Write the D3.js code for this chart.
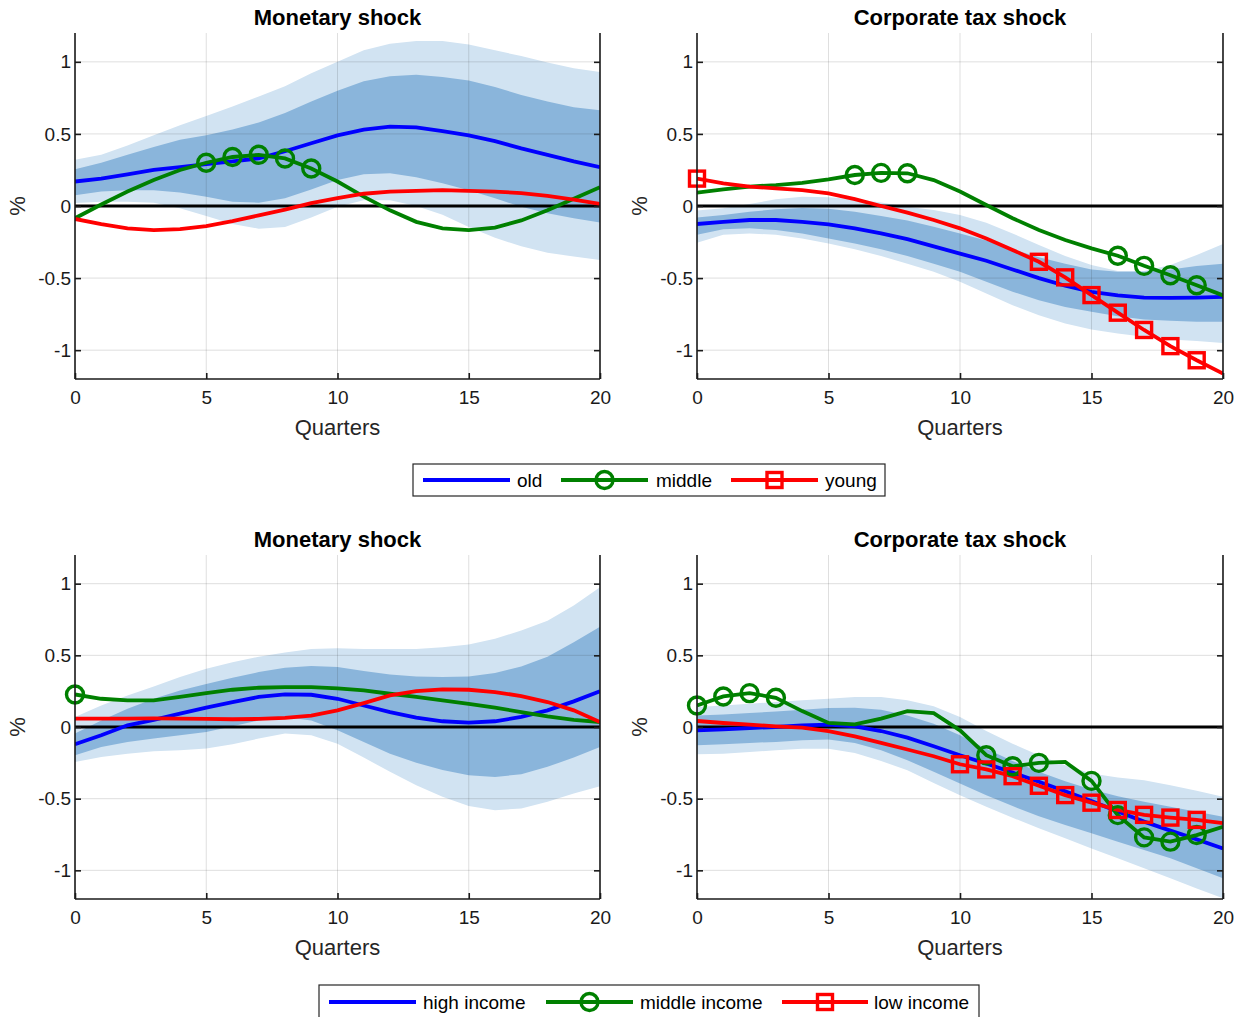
<!DOCTYPE html>
<html>
<head>
<meta charset="utf-8">
<script src="https://cdn.jsdelivr.net/npm/d3@7"></script>
<style>
  body { margin: 0; background: #fff; }
  svg { font-family: "Liberation Sans", Arial, sans-serif; }
</style>
</head>
<body>
<div id="chart"></div>
<script>
// Data
// ===========================
var quarters = [0, 1, 2, 3, 4, 5, 6, 7, 8, 9, 10, 11, 12, 13, 14, 15, 16, 17, 18, 19, 20];
var yTicks = [-1, -0.5, 0, 0.5, 1];
var xTicks = [0, 5, 10, 15, 20];

// Age groups, monetary shock
var ageMonOld = [0.17, 0.19, 0.22, 0.25, 0.27, 0.29, 0.31, 0.33, 0.38, 0.435, 0.49, 0.53, 0.55, 0.545, 0.52, 0.49, 0.45, 0.40, 0.355, 0.31, 0.27];
var ageMonMid = [-0.085, 0.01, 0.10, 0.18, 0.25, 0.30, 0.34, 0.355, 0.33, 0.26, 0.17, 0.065, -0.03, -0.11, -0.155, -0.167, -0.15, -0.10, -0.03, 0.05, 0.13];
var ageMonYoung = [-0.09, -0.125, -0.155, -0.167, -0.16, -0.14, -0.105, -0.065, -0.025, 0.02, 0.055, 0.085, 0.10, 0.105, 0.11, 0.105, 0.10, 0.09, 0.07, 0.045, 0.015];
var ageMonOuterHi = [0.32, 0.355, 0.42, 0.49, 0.56, 0.625, 0.69, 0.76, 0.83, 0.92, 1.0, 1.08, 1.125, 1.145, 1.145, 1.12, 1.08, 1.04, 0.995, 0.955, 0.93];
var ageMonInnerHi = [0.255, 0.30, 0.355, 0.41, 0.46, 0.49, 0.53, 0.58, 0.645, 0.725, 0.80, 0.865, 0.90, 0.91, 0.895, 0.87, 0.825, 0.77, 0.725, 0.685, 0.665];
var ageMonInnerLo = [0.075, 0.10, 0.11, 0.11, 0.093, 0.065, 0.03, 0.023, 0.053, 0.115, 0.18, 0.22, 0.227, 0.20, 0.157, 0.11, 0.053, -0.005, -0.05, -0.085, -0.115];
var ageMonOuterLo = [0.02, 0.03, 0.03, 0.023, -0.016, -0.07, -0.125, -0.157, -0.145, -0.08, -0.005, 0.04, 0.04, 0.0, -0.06, -0.145, -0.22, -0.28, -0.325, -0.35, -0.375];
var ageMonMidMarks = [5, 6, 7, 8, 9];
var ageMonYoungMarks = [];

// Age groups, corporate tax shock
var ageTaxOld = [-0.125, -0.11, -0.097, -0.097, -0.11, -0.127, -0.155, -0.19, -0.23, -0.28, -0.33, -0.38, -0.44, -0.50, -0.553, -0.595, -0.62, -0.635, -0.637, -0.635, -0.63];
var ageTaxMid = [0.093, 0.115, 0.135, 0.145, 0.16, 0.185, 0.215, 0.23, 0.227, 0.18, 0.10, 0.007, -0.085, -0.167, -0.236, -0.294, -0.345, -0.415, -0.48, -0.55, -0.62];
var ageTaxYoung = [0.19, 0.157, 0.135, 0.122, 0.11, 0.088, 0.048, 0.0, -0.046, -0.097, -0.155, -0.225, -0.305, -0.387, -0.495, -0.618, -0.74, -0.86, -0.972, -1.07, -1.162];
var ageTaxOuterHi = [-0.032, -0.016, 0.014, 0.046, 0.065, 0.06, 0.046, 0.025, -0.005, -0.028, -0.062, -0.116, -0.19, -0.27, -0.347, -0.41, -0.45, -0.45, -0.41, -0.34, -0.264];
var ageTaxInnerHi = [-0.079, -0.062, -0.04, -0.023, -0.014, -0.019, -0.04, -0.07, -0.10, -0.144, -0.19, -0.24, -0.30, -0.356, -0.40, -0.44, -0.456, -0.456, -0.44, -0.417, -0.40];
var ageTaxInnerLo = [-0.20, -0.162, -0.155, -0.167, -0.19, -0.225, -0.26, -0.30, -0.347, -0.40, -0.456, -0.525, -0.595, -0.653, -0.70, -0.734, -0.764, -0.787, -0.796, -0.803, -0.803];
var ageTaxOuterLo = [-0.255, -0.20, -0.19, -0.20, -0.225, -0.26, -0.30, -0.347, -0.40, -0.456, -0.525, -0.607, -0.688, -0.757, -0.815, -0.856, -0.884, -0.907, -0.926, -0.937, -0.95];
var ageTaxMidMarks = [6, 7, 8, 16, 17, 18, 19];
var ageTaxYoungMarks = [0, 13, 14, 15, 16, 17, 18, 19];

// Income groups, monetary shock
var incMonHigh = [-0.12, -0.058, 0.012, 0.05, 0.093, 0.135, 0.174, 0.21, 0.227, 0.225, 0.197, 0.15, 0.104, 0.065, 0.04, 0.03, 0.04, 0.07, 0.116, 0.179, 0.25];
var incMonMid = [0.227, 0.197, 0.186, 0.186, 0.21, 0.237, 0.26, 0.274, 0.278, 0.278, 0.27, 0.255, 0.232, 0.21, 0.186, 0.162, 0.135, 0.104, 0.074, 0.05, 0.035];
var incMonLow = [0.058, 0.058, 0.058, 0.06, 0.058, 0.056, 0.054, 0.056, 0.063, 0.08, 0.116, 0.167, 0.22, 0.25, 0.262, 0.26, 0.244, 0.216, 0.174, 0.116, 0.035];
var incMonOuterHi = [0.07, 0.15, 0.22, 0.283, 0.348, 0.406, 0.452, 0.49, 0.52, 0.545, 0.55, 0.545, 0.545, 0.545, 0.557, 0.575, 0.615, 0.673, 0.742, 0.847, 0.975];
var incMonInnerHi = [-0.046, 0.046, 0.128, 0.197, 0.255, 0.30, 0.343, 0.383, 0.413, 0.425, 0.418, 0.39, 0.367, 0.353, 0.348, 0.353, 0.376, 0.422, 0.49, 0.592, 0.70];
var incMonInnerLo = [-0.197, -0.139, -0.104, -0.081, -0.058, -0.035, 0.005, 0.046, 0.07, 0.046, -0.023, -0.104, -0.186, -0.25, -0.30, -0.336, -0.348, -0.33, -0.278, -0.213, -0.139];
var incMonOuterLo = [-0.244, -0.209, -0.186, -0.17, -0.162, -0.15, -0.12, -0.081, -0.046, -0.058, -0.116, -0.213, -0.313, -0.406, -0.487, -0.552, -0.58, -0.568, -0.522, -0.464, -0.413];
var incMonMidMarks = [0];
var incMonLowMarks = [];

// Income groups, corporate tax shock
var incTaxHigh = [-0.023, -0.016, -0.007, 0.0, 0.012, 0.016, 0.005, -0.028, -0.074, -0.134, -0.197, -0.255, -0.318, -0.382, -0.448, -0.517, -0.59, -0.66, -0.723, -0.784, -0.847];
var incTaxMid = [0.15, 0.213, 0.236, 0.204, 0.111, 0.028, 0.018, 0.058, 0.111, 0.097, -0.023, -0.197, -0.274, -0.25, -0.244, -0.376, -0.615, -0.77, -0.80, -0.754, -0.696];
var incTaxLow = [0.042, 0.028, 0.016, 0.005, -0.005, -0.028, -0.065, -0.111, -0.157, -0.204, -0.26, -0.296, -0.343, -0.41, -0.475, -0.528, -0.579, -0.613, -0.632, -0.648, -0.671];
var incTaxOuterHi = [0.139, 0.15, 0.162, 0.174, 0.186, 0.197, 0.209, 0.209, 0.186, 0.144, 0.07, -0.028, -0.116, -0.197, -0.267, -0.325, -0.353, -0.371, -0.406, -0.445, -0.487];
var incTaxInnerHi = [0.081, 0.088, 0.097, 0.109, 0.12, 0.132, 0.135, 0.12, 0.081, 0.023, -0.058, -0.151, -0.237, -0.313, -0.378, -0.436, -0.483, -0.522, -0.557, -0.592, -0.626];
var incTaxInnerLo = [-0.128, -0.12, -0.111, -0.104, -0.093, -0.088, -0.111, -0.162, -0.232, -0.313, -0.394, -0.476, -0.552, -0.622, -0.684, -0.742, -0.80, -0.858, -0.916, -0.986, -1.056];
var incTaxOuterLo = [-0.19, -0.186, -0.174, -0.162, -0.151, -0.151, -0.181, -0.237, -0.302, -0.39, -0.476, -0.557, -0.633, -0.707, -0.777, -0.847, -0.916, -0.986, -1.056, -1.126, -1.195];
var incTaxMidMarks = [0, 1, 2, 3, 11, 12, 13, 15, 16, 17, 18, 19];
var incTaxLowMarks = [10, 11, 12, 13, 14, 15, 16, 17, 18, 19];

var ageLabels = ["old", "middle", "young"];
var incomeLabels = ["high income", "middle income", "low income"];
var titles = ["Monetary shock", "Corporate tax shock"];

// Canvas
// ===========================
var width = 1244, height = 1017;
var svg = d3.select("#chart").append("svg")
  .attr("width", width)
  .attr("height", height);

var colBlue = "#0000ff", colGreen = "#008000", colRed = "#ff0000";
var colOuter = "#d1e3f2", colInner = "#8ab5db";
var lineW = 3.8, markW = 3.4;

// panel boxes
var cols = [{ x0: 75, x1: 600 }, { x0: 697, x1: 1223 }];
var rows = [{ y0: 33, y1: 379 }, { y0: 555, y1: 899 }];

var panels = [
  { col: 0, row: 0, title: titles[0], a: ageMonOld, b: ageMonMid, c: ageMonYoung,
    oh: ageMonOuterHi, ih: ageMonInnerHi, il: ageMonInnerLo, ol: ageMonOuterLo,
    bMarks: ageMonMidMarks, cMarks: ageMonYoungMarks },
  { col: 1, row: 0, title: titles[1], a: ageTaxOld, b: ageTaxMid, c: ageTaxYoung,
    oh: ageTaxOuterHi, ih: ageTaxInnerHi, il: ageTaxInnerLo, ol: ageTaxOuterLo,
    bMarks: ageTaxMidMarks, cMarks: ageTaxYoungMarks },
  { col: 0, row: 1, title: titles[0], a: incMonHigh, b: incMonMid, c: incMonLow,
    oh: incMonOuterHi, ih: incMonInnerHi, il: incMonInnerLo, ol: incMonOuterLo,
    bMarks: incMonMidMarks, cMarks: incMonLowMarks },
  { col: 1, row: 1, title: titles[1], a: incTaxHigh, b: incTaxMid, c: incTaxLow,
    oh: incTaxOuterHi, ih: incTaxInnerHi, il: incTaxInnerLo, ol: incTaxOuterLo,
    bMarks: incTaxMidMarks, cMarks: incTaxLowMarks }
];

panels.forEach(drawPanel);

function drawPanel(p) {
  var c = cols[p.col], r = rows[p.row];
  var x = d3.scaleLinear().domain([0, 20]).range([c.x0, c.x1]);
  var y = d3.scaleLinear().domain([-1.2, 1.2]).range([r.y1, r.y0]);
  var g = svg.append("g");

  // clip so that bands stay inside the axes
  var clipId = "clip" + p.col + p.row;
  g.append("clipPath").attr("id", clipId)
    .append("rect")
    .attr("x", c.x0).attr("y", r.y0)
    .attr("width", c.x1 - c.x0).attr("height", r.y1 - r.y0);
  var inner = g.append("g").attr("clip-path", "url(#" + clipId + ")");

  // bands
  var band = function(lo, hi) {
    return d3.area()
      .x(function(d) { return x(d); })
      .y0(function(d, i) { return y(lo[i]); })
      .y1(function(d, i) { return y(hi[i]); })(quarters);
  };
  inner.append("path").attr("d", band(p.ol, p.oh)).attr("fill", colOuter);
  inner.append("path").attr("d", band(p.il, p.ih)).attr("fill", colInner);

  // grid
  inner.selectAll(".gx").data(xTicks).enter().append("line")
    .attr("x1", function(d) { return x(d); }).attr("x2", function(d) { return x(d); })
    .attr("y1", r.y0).attr("y2", r.y1)
    .attr("stroke", "rgba(38,38,38,0.15)").attr("stroke-width", 1);
  inner.selectAll(".gy").data(yTicks).enter().append("line")
    .attr("x1", c.x0).attr("x2", c.x1)
    .attr("y1", function(d) { return y(d); }).attr("y2", function(d) { return y(d); })
    .attr("stroke", "rgba(38,38,38,0.15)").attr("stroke-width", 1);

  // zero line
  inner.append("line")
    .attr("x1", c.x0).attr("x2", c.x1)
    .attr("y1", y(0)).attr("y2", y(0))
    .attr("stroke", "#000").attr("stroke-width", 2.8);

  // series
  var line = function(vals) {
    return d3.line()
      .x(function(d) { return x(d); })
      .y(function(d, i) { return y(vals[i]); })(quarters);
  };
  inner.append("path").attr("d", line(p.a)).attr("fill", "none")
    .attr("stroke", colBlue).attr("stroke-width", lineW);
  inner.append("path").attr("d", line(p.b)).attr("fill", "none")
    .attr("stroke", colGreen).attr("stroke-width", lineW);
  g.selectAll(".mk-b").data(p.bMarks).enter().append("circle")
    .attr("cx", function(d) { return x(d); })
    .attr("cy", function(d) { return y(p.b[d]); })
    .attr("r", 8.5).attr("fill", "none")
    .attr("stroke", colGreen).attr("stroke-width", markW);
  inner.append("path").attr("d", line(p.c)).attr("fill", "none")
    .attr("stroke", colRed).attr("stroke-width", lineW);
  g.selectAll(".mk-c").data(p.cMarks).enter().append("rect")
    .attr("x", function(d) { return x(d) - 7.5; })
    .attr("y", function(d) { return y(p.c[d]) - 7.5; })
    .attr("width", 15).attr("height", 15).attr("fill", "none")
    .attr("stroke", colRed).attr("stroke-width", markW);

  // axes
  var yAxisL = d3.axisLeft(y).tickValues(yTicks).tickSize(-6).tickPadding(4)
    .tickFormat(function(d) { return d === 0 ? "0" : String(d); });
  var yAxisR = d3.axisRight(y).tickValues(yTicks).tickSize(-6).tickFormat("");
  var xAxis = d3.axisBottom(x).tickValues(xTicks).tickSize(-6).tickPadding(12);

  var ga = g.append("g").attr("transform", "translate(" + c.x0 + ",0)").call(yAxisL);
  var gr = g.append("g").attr("transform", "translate(" + c.x1 + ",0)").call(yAxisR);
  var gb = g.append("g").attr("transform", "translate(0," + r.y1 + ")").call(xAxis);
  [ga, gr, gb].forEach(function(a) {
    a.select(".domain").attr("stroke", "#1a1a1a").attr("stroke-width", 1.6)
      .attr("d", a === gb ? "M" + c.x0 + ",0H" + c.x1
                          : "M0," + r.y0 + "V" + r.y1);
    a.selectAll(".tick line").attr("stroke", "#1a1a1a").attr("stroke-width", 1.6);
    a.selectAll("text").attr("fill", "#1a1a1a")
      .style("font-size", "19px").style("font-family", "'Liberation Sans', Arial, sans-serif");
  });

  // titles and labels
  g.append("text")
    .attr("x", (c.x0 + c.x1) / 2).attr("y", r.y0 - 8)
    .attr("text-anchor", "middle")
    .style("font-size", "22px").style("font-weight", "bold")
    .text(p.title);
  g.append("text")
    .attr("x", (c.x0 + c.x1) / 2).attr("y", r.y1 + 56)
    .attr("text-anchor", "middle").attr("fill", "#262626")
    .style("font-size", "22px")
    .text("Quarters");
  g.append("text")
    .attr("transform", "translate(" + (c.x0 - 50) + "," + y(0) + ") rotate(-90)")
    .attr("text-anchor", "middle").attr("fill", "#262626")
    .style("font-size", "22px")
    .text("%");
}

// Legends
// ===========================
drawLegend(ageLabels, { x: 413, y: 464, w: 472, h: 32 },
  [[423, 510, 517], [561, 648, 656], [731, 818, 825]]);
drawLegend(incomeLabels, { x: 319, y: 985, w: 660, h: 34 },
  [[329, 416, 423], [546, 633, 640], [782, 868, 874]]);

function drawLegend(labels, box, slots) {
  var g = svg.append("g");
  g.append("rect")
    .attr("x", box.x).attr("y", box.y).attr("width", box.w).attr("height", box.h)
    .attr("fill", "#fff").attr("stroke", "#262626").attr("stroke-width", 1.2);
  var cy = box.y + box.h / 2;
  var colorsL = [colBlue, colGreen, colRed];
  labels.forEach(function(lab, i) {
    var s = slots[i];
    g.append("line").attr("x1", s[0]).attr("x2", s[1]).attr("y1", cy).attr("y2", cy)
      .attr("stroke", colorsL[i]).attr("stroke-width", lineW);
    var mx = (s[0] + s[1]) / 2;
    if (i === 1) {
      g.append("circle").attr("cx", mx).attr("cy", cy).attr("r", 8.5)
        .attr("fill", "none").attr("stroke", colGreen).attr("stroke-width", markW);
    }
    if (i === 2) {
      g.append("rect").attr("x", mx - 7.5).attr("y", cy - 7.5).attr("width", 15).attr("height", 15)
        .attr("fill", "none").attr("stroke", colRed).attr("stroke-width", markW);
    }
    g.append("text").attr("x", s[2]).attr("y", cy + 6.5)
      .attr("fill", "#000").style("font-size", "19px")
      .text(lab);
  });
}
</script>
</body>
</html>
